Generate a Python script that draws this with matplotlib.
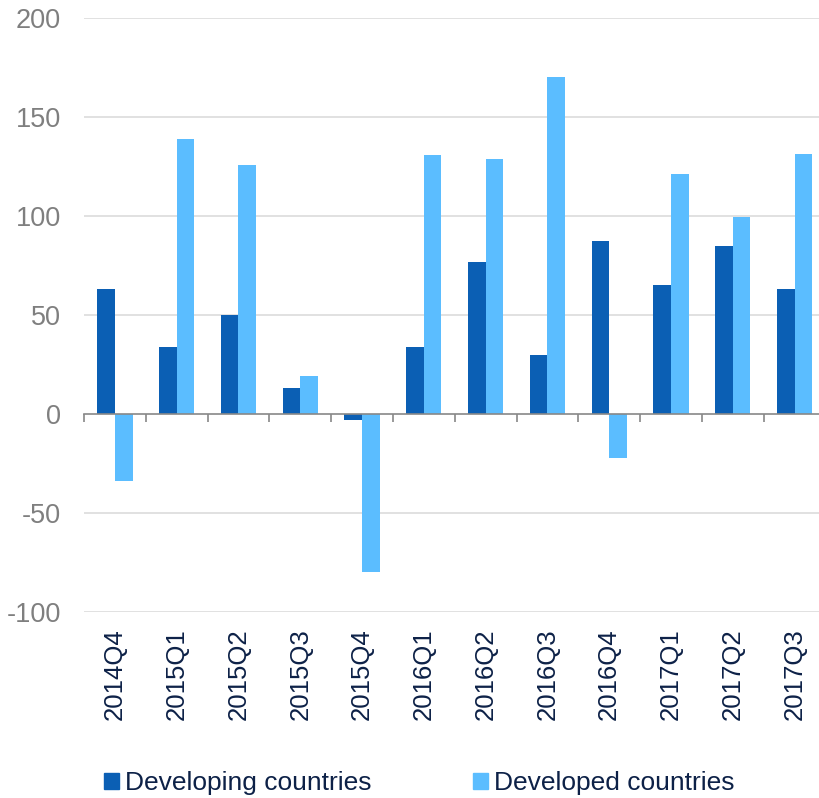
import numpy as np
import matplotlib
matplotlib.use("Agg")
import matplotlib.pyplot as plt
from matplotlib.patches import Patch

plt.rcParams['font.family'] = ['Liberation Sans', 'DejaVu Sans']
plt.rcParams['axes.unicode_minus'] = False

quarters = ['2014Q4', '2015Q1', '2015Q2', '2015Q3', '2015Q4', '2016Q1',
            '2016Q2', '2016Q3', '2016Q4', '2017Q1', '2017Q2', '2017Q3']
developing = [63, 34, 50, 13, -3, 34, 77, 30, 87.5, 65, 85, 63]
developed = [-34, 139, 126, 19, -80, 131, 129, 170, -22, 121, 99.5, 131.5]
yticks = [-100, -50, 0, 50, 100, 150, 200]

dark_blue = '#0b5fb4'
light_blue = '#5bbdff'
navy = '#0d2147'
grey = '#7f7f7f'

fig = plt.figure(figsize=(8.19, 7.98), dpi=100)
W, H = 819, 798
ax = fig.add_axes([84 / W, (H - 612) / H, 741.5 / W, 594 / H])

x = np.arange(len(quarters))
w = 0.285
ax.bar(x - w / 2, developing, w, color=dark_blue, zorder=3)
ax.bar(x + w / 2, developed, w, color=light_blue, zorder=3)

ax.set_xlim(-0.5, len(quarters) - 0.5)
ax.set_ylim(-100, 200)
ax.set_yticks(yticks)
ax.tick_params(axis='y', length=0, pad=16.5, labelsize=19.5, labelcolor=grey)
for v in yticks:
    if v != 0:
        ax.axhline(v, color='#d9d9d9', lw=1.1, zorder=1)

for s in ['top', 'right', 'left']:
    ax.spines[s].set_visible(False)
# zero line with category boundary ticks
ax.spines['bottom'].set_position(('data', 0))
ax.spines['bottom'].set_color('#888888')
ax.spines['bottom'].set_linewidth(1.2)
ax.spines['bottom'].set_zorder(4)
ax.set_xticks(np.arange(-0.5, len(quarters)))
ax.tick_params(axis='x', length=6, width=1.2, color='#888888', labelbottom=False)

# category labels under the plot area
sec = ax.secondary_xaxis('bottom')
sec.set_xticks(x)
sec.set_xticklabels(quarters, rotation=90, fontsize=18.5, color=navy)
sec.tick_params(length=0, pad=12)
sec.spines['bottom'].set_visible(False)

handles = [Patch(color=dark_blue, label='Developing countries'),
           Patch(color=light_blue, label='Developed countries')]
fig.legend(handles=handles, loc='center left', bbox_to_anchor=(104 / W, (H - 783) / H),
           ncol=2, frameon=False, fontsize=19, labelcolor=navy,
           handlelength=0.55, handleheight=0.55, handletextpad=0.25,
           columnspacing=3.85, borderpad=0, borderaxespad=0)

fig.savefig('out.png', dpi=100)
